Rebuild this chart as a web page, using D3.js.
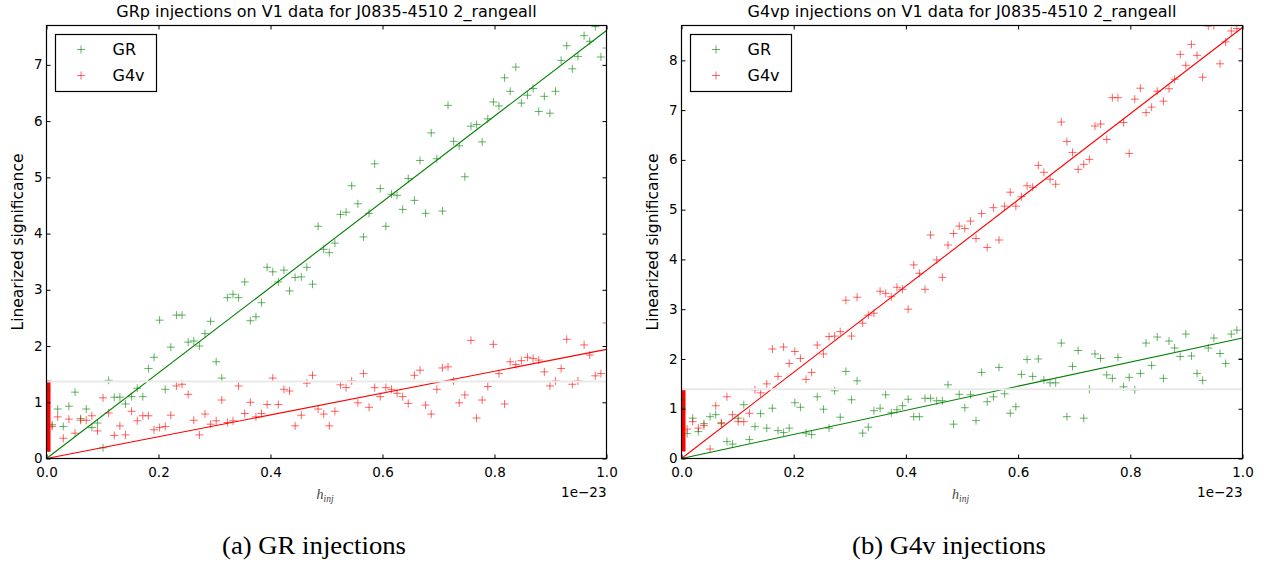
<!DOCTYPE html>
<html><head><meta charset="utf-8">
<script src="https://cdn.jsdelivr.net/npm/d3@7"></script>
<style>body{margin:0;background:#fff}svg{display:block}</style>
</head><body>
<svg id="c" width="1268" height="565"></svg>
<script>
// ---------------- data ----------------
const hInj = [0.010,0.020,0.030,0.040,0.051,0.061,0.071,0.081,0.091,0.101,
0.111,0.121,0.131,0.141,0.152,0.162,0.172,0.182,0.192,0.202,
0.212,0.222,0.232,0.242,0.253,0.263,0.273,0.283,0.293,0.303,
0.313,0.323,0.333,0.343,0.354,0.364,0.374,0.384,0.394,0.404,
0.414,0.424,0.434,0.444,0.455,0.465,0.475,0.485,0.495,0.505,
0.515,0.525,0.535,0.545,0.556,0.566,0.576,0.586,0.596,0.606,
0.616,0.626,0.636,0.646,0.657,0.667,0.677,0.687,0.697,0.707,
0.717,0.727,0.737,0.747,0.758,0.768,0.778,0.788,0.798,0.808,
0.818,0.828,0.838,0.848,0.859,0.869,0.879,0.889,0.899,0.909,
0.919,0.929,0.939,0.949,0.960,0.970,0.980,0.990,1.000];

// (a) GR injections
const leftGR = [0.60,0.88,0.57,0.93,1.18,0.71,0.88,0.55,0.63,0.19,
1.39,1.09,1.09,0.97,1.10,1.25,1.10,1.60,1.80,2.46,
1.23,1.98,2.55,2.55,2.07,2.09,2.00,2.22,2.44,1.72,
1.43,2.86,2.92,2.86,3.14,2.45,2.52,2.77,3.40,3.32,
3.14,3.35,2.98,3.22,3.23,3.40,3.10,4.13,3.72,3.66,
3.83,4.34,4.38,4.85,4.53,3.94,4.36,5.24,4.80,4.13,
4.70,4.68,4.43,4.98,4.59,5.30,4.36,5.79,5.33,4.40,
6.28,5.64,5.56,5.01,5.91,5.94,5.63,6.04,6.34,6.27,
6.77,6.53,6.96,6.32,6.46,6.58,6.17,6.44,6.14,6.53,
7.08,7.34,6.93,7.15,7.52,7.42,7.68,7.14,7.30];
const leftG4v = [0.57,0.74,0.36,0.70,0.45,0.68,0.68,0.76,0.49,1.08,
0.81,0.41,0.58,0.42,0.84,0.67,0.76,0.76,0.51,0.55,
0.57,0.77,1.29,1.32,1.14,0.68,0.42,0.79,0.61,0.67,
1.04,0.64,0.67,1.29,0.80,1.00,0.74,0.80,0.96,1.43,
0.96,1.23,1.20,0.58,0.77,1.34,1.48,0.88,0.79,0.58,
0.84,1.31,1.26,1.38,0.99,1.51,0.91,1.26,1.10,1.26,
1.23,1.16,1.10,0.98,1.48,1.57,0.95,0.79,1.23,1.61,
1.63,1.38,0.99,1.13,2.10,0.72,1.04,1.28,2.03,1.51,
0.97,1.72,1.67,1.74,1.80,1.78,1.75,1.54,1.29,1.38,
1.60,2.12,1.32,1.38,2.02,1.84,1.47,1.51,2.41];

// (b) G4v injections
const rightGR = [0.50,0.81,0.54,0.70,0.84,0.88,0.70,0.34,0.29,0.81,
1.08,0.38,0.64,0.90,0.61,1.01,0.56,0.52,0.61,1.12,
1.03,0.51,0.48,1.24,0.99,0.61,1.36,0.83,1.75,1.18,
1.56,0.51,0.63,0.96,1.01,1.28,0.92,0.98,1.06,1.19,
0.84,0.84,1.21,1.21,1.16,1.16,1.48,0.69,1.29,1.02,
1.28,0.76,1.73,1.14,1.24,1.83,1.30,0.91,1.04,1.69,
1.99,1.65,2.00,1.58,1.52,1.52,2.32,0.84,1.85,2.17,
0.81,1.39,2.10,2.01,1.68,1.61,2.03,1.44,1.63,1.38,
1.71,2.32,1.87,2.44,1.61,2.36,2.22,2.05,2.50,2.06,
1.71,1.57,2.22,2.42,2.11,1.91,2.50,2.58,2.01];
const rightG4v = [0.59,0.74,0.61,0.66,0.19,1.06,0.72,1.24,0.88,0.74,
0.74,0.91,1.38,1.32,1.50,2.20,1.65,2.24,1.91,2.15,
2.01,1.59,1.73,2.28,2.10,2.45,2.46,2.55,3.18,2.46,
3.24,2.72,2.88,2.92,3.36,3.32,3.25,3.44,3.40,3.00,
3.89,3.72,3.40,4.49,3.99,3.64,4.29,4.52,4.67,4.62,
4.77,4.42,4.92,4.24,5.04,4.39,5.07,5.35,5.07,5.26,
5.48,5.45,5.89,5.75,5.61,5.51,6.76,6.37,6.15,5.81,
5.91,6.01,6.68,6.72,6.41,7.25,7.25,6.75,6.13,7.22,
7.44,6.95,7.06,7.38,7.18,7.43,7.62,8.12,7.90,8.32,
8.10,7.66,8.69,8.70,7.93,8.37,8.59,8.64,8.23];

// linear fits: significance reached at h = 1e-23  [GR, G4v]
const leftFit = [7.61, 1.94];
const rightFit = [2.42, 8.66];
// horizontal threshold (light grey line)
const thresholds = [1.37, 1.39];
// zero-injection points (dense pile at h = 0): G4v extent, visible GR points
const zeroG4vLeft = [0.12, 1.39];
const zeroG4vRight = [0.14, 1.38];
const zeroGRLeft = [1.22];
const zeroGRRight = [1.18, 1.02];

const xTicks = [0, 0.2, 0.4, 0.6, 0.8, 1.0];
const leftYTicks = [0,1,2,3,4,5,6,7];
const rightYTicks = [0,1,2,3,4,5,6,7,8];
const yMax = [7.70, 8.70];
const titles = ["GRp injections on V1 data for J0835-4510 2_rangeall",
                "G4vp injections on V1 data for J0835-4510 2_rangeall"];
const captions = ["(a) GR injections", "(b) G4v injections"];
const legendLabels = ["GR", "G4v"];
const seriesColors = ["#008000", "#ff0000"];

// ---------------- drawing ----------------
const svg = d3.select("#c");
svg.append("rect").attr("width",1268).attr("height",565).attr("fill","#fff");
const SANS = "DejaVu Sans, sans-serif";

const panels = [
  {x0:46.5, y0:25.5, w:560, h:433, ymax:yMax[0], yTicks:leftYTicks, gr:leftGR, g4:leftG4v,
   fit:leftFit, thr:thresholds[0], zG4:zeroG4vLeft, zGR:zeroGRLeft, title:titles[0], cap:captions[0], capX:314, capW:184, ylabX:17.5},
  {x0:681.5, y0:25.5, w:561, h:433, ymax:yMax[1], yTicks:rightYTicks, gr:rightGR, g4:rightG4v,
   fit:rightFit, thr:thresholds[1], zG4:zeroG4vRight, zGR:zeroGRRight, title:titles[1], cap:captions[1], capX:949, capW:194, ylabX:652.5}
];

const plusPath = "M-4,0H4M0,-4V4";

panels.forEach((p, i) => {
  const x = d3.scaleLinear().domain([0,1]).range([p.x0, p.x0 + p.w]);
  const y = d3.scaleLinear().domain([0,p.ymax]).range([p.y0 + p.h, p.y0]);
  const g = svg.append("g");
  const clipId = "clip"+i;
  svg.append("clipPath").attr("id",clipId).append("rect")
    .attr("x",p.x0).attr("y",p.y0).attr("width",p.w).attr("height",p.h);
  const plot = g.append("g").attr("clip-path",`url(#${clipId})`);

  const drawMarkers = (vals, xs, color) => {
    plot.append("g").selectAll("path").data(vals).join("path")
      .attr("d", plusPath)
      .attr("transform", (d,j) => `translate(${x(xs[j])},${y(d)})`)
      .attr("stroke", color).attr("stroke-width",1).attr("fill","none")
      .attr("stroke-opacity",0.6);
  };
  drawMarkers(p.gr, hInj, seriesColors[0]);
  drawMarkers(p.g4, hInj, seriesColors[1]);

  // zero-injection pile for G4v (solid band of overlapping markers)
  plot.append("rect")
    .attr("x", x(0)).attr("width", 4)
    .attr("y", y(p.zG4[1])).attr("height", y(p.zG4[0]) - y(p.zG4[1]))
    .attr("fill", seriesColors[1]);
  drawMarkers(p.zGR, p.zGR.map(() => 0), seriesColors[0]);

  // fit lines
  const line = d3.line().x(d => x(d[0])).y(d => y(d[1]));
  p.fit.forEach((s, k) => {
    plot.append("path").attr("d", line([[0,0],[1,s]]))
      .attr("stroke", seriesColors[k]).attr("stroke-width",1.1).attr("fill","none");
  });

  // threshold line
  plot.append("path").attr("d", line([[0,p.thr],[1,p.thr]]))
    .attr("stroke","#e9e9e9").attr("stroke-width",2).attr("fill","none");

  // axes (ticks inward on all sides)
  const fmt = d3.format(".1f");
  const bx = g.append("g").attr("transform",`translate(0,${p.y0+p.h})`)
    .call(d3.axisBottom(x).tickValues(xTicks).tickSize(-4).tickPadding(9).tickFormat(fmt));
  const tx = g.append("g").attr("transform",`translate(0,${p.y0})`)
    .call(d3.axisTop(x).tickValues(xTicks).tickSize(-4).tickFormat(""));
  const ly = g.append("g").attr("transform",`translate(${p.x0},0)`)
    .call(d3.axisLeft(y).tickValues(p.yTicks).tickSize(-4).tickPadding(4).tickFormat(d3.format("d")));
  const ry = g.append("g").attr("transform",`translate(${p.x0+p.w},0)`)
    .call(d3.axisRight(y).tickValues(p.yTicks).tickSize(-4).tickFormat(""));
  [bx,tx,ly,ry].forEach(a => {
    a.select(".domain").remove();
    a.selectAll("line").attr("stroke","#000");
    a.selectAll("text").attr("font-family",SANS).attr("font-size",13.5).attr("fill","#000");
  });
  ly.selectAll("text").attr("dy","0.3em");

  // frame
  g.append("rect").attr("x",p.x0).attr("y",p.y0).attr("width",p.w).attr("height",p.h)
    .attr("fill","none").attr("stroke","#000").attr("stroke-width",1.2);

  // title
  g.append("text").attr("x", p.x0 + p.w/2).attr("y", 17).attr("text-anchor","middle")
    .attr("font-family",SANS).attr("font-size",16).text(p.title);

  // y label
  g.append("text").attr("transform",`translate(${p.ylabX},${p.y0+p.h/2}) rotate(-90)`)
    .attr("text-anchor","middle").attr("dy","0.35em")
    .attr("font-family",SANS).attr("font-size",15.5).text("Linearized significance");

  // offset text
  g.append("text").attr("x", p.x0 + p.w).attr("y", 497).attr("text-anchor","end")
    .attr("font-family",SANS).attr("font-size",13.5).text("1e\u221223");

  // x label h_inj
  const xl = g.append("text").attr("x", p.x0 + p.w/2 - 10).attr("y", 499)
    .attr("font-family","Liberation Serif, serif").attr("font-style","italic")
    .attr("fill","#444").attr("font-size",14);
  xl.append("tspan").text("h");
  xl.append("tspan").attr("dy",3).attr("font-size",9.5).text("inj");

  // legend
  const lg = g.append("g").attr("transform",`translate(${p.x0+9},${p.y0+9})`);
  lg.append("rect").attr("width",101).attr("height",57).attr("fill","#fff")
    .attr("stroke","#000").attr("stroke-width",1.2);
  legendLabels.forEach((lab, k) => {
    lg.append("path").attr("d",plusPath).attr("transform",`translate(25.5,${15+k*26})`)
      .attr("stroke",seriesColors[k]).attr("stroke-opacity",0.6).attr("fill","none");
    lg.append("text").attr("x",57).attr("y",15+k*26).attr("dy","0.36em")
      .attr("font-family",SANS).attr("font-size",16).text(lab);
  });

  // caption
  svg.append("text").attr("x", p.capX).attr("y", 554).attr("text-anchor","middle")
    .attr("font-family","Liberation Serif, serif").attr("font-size",24.5)
    .attr("textLength",p.capW).attr("lengthAdjust","spacingAndGlyphs").text(p.cap);
});
</script>
</body></html>
